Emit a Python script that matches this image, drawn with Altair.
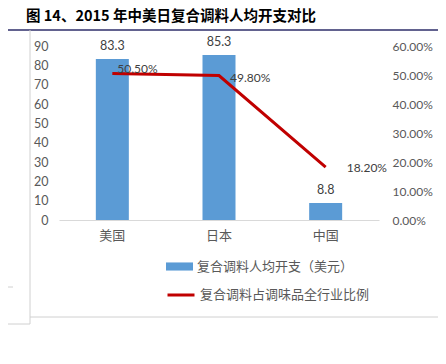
import altair as alt
import pandas as pd

categories = ["美国", "日本", "中国"]
spend = [83.3, 85.3, 8.8]
share = [0.505, 0.498, 0.182]
bar_name = "复合调料人均开支（美元）"
line_name = "复合调料占调味品全行业比例"
left_ticks = [0, 10, 20, 30, 40, 50, 60, 70, 80, 90]
right_ticks = [0, 0.1, 0.2, 0.3, 0.4, 0.5, 0.6]
title_text = "图 14、2015 年中美日复合调料人均开支对比"

df = pd.DataFrame({"cat": categories, "spend": spend, "share": share})
df["s1"] = bar_name
df["s2"] = line_name

NUM = "Lato"
CJK = "Noto Sans CJK SC"

base = alt.Chart(df)
xenc = alt.X("cat:N", sort=categories, title=None,
             scale=alt.Scale(paddingInner=0.69, paddingOuter=0.345),
             axis=alt.Axis(labelAngle=0, labelFont=CJK, labelFontSize=13,
                           labelColor="#595959", domainColor="#D9D9D9",
                           ticks=False, labelPadding=9))

yl = alt.Y("spend:Q", title=None, scale=alt.Scale(domain=[0, 90]),
           axis=alt.Axis(values=left_ticks, grid=False, domain=False, ticks=False,
                         labelOverlap=False, labelFont=NUM, labelFontSize=12.5,
                         labelColor="#595959", labelPadding=11))
yr = alt.Y("share:Q", title=None, scale=alt.Scale(domain=[0, 0.6]),
           axis=alt.Axis(values=right_ticks, format=".2%", orient="right", grid=False,
                         domain=False, ticks=False, labelOverlap=False, labelFont=NUM,
                         labelFontSize=12, labelColor="#595959", labelPadding=13))

bars = base.mark_bar(size=33).encode(
    x=xenc, y=yl,
    color=alt.Color("s1:N", scale=alt.Scale(domain=[bar_name], range=["#5B9BD5"]),
                    legend=alt.Legend(title=None, orient="none", legendX=107, legendY=207,
                                      symbolType="M-1,-0.3L1,-0.3L1,0.3L-1,0.3Z",
                                      symbolSize=729, symbolStrokeWidth=0,
                                      labelFont=CJK, labelFontSize=13, labelLimit=400,
                                      labelColor="#595959", labelOffset=4)))
bar_text = base.mark_text(baseline="bottom", dy=-6, font=NUM, fontSize=12.5,
                          color="#404040").encode(
    x=xenc, y=yl, text=alt.Text("spend:Q", format=".1f"))

line = base.mark_line(strokeWidth=3).encode(
    x=xenc, y=yr,
    stroke=alt.Stroke("s2:N", scale=alt.Scale(domain=[line_name], range=["#C00000"]),
                      legend=alt.Legend(title=None, orient="none", legendX=107, legendY=234,
                                        symbolType="stroke", symbolSize=729,
                                        symbolStrokeWidth=3, labelLimit=400,
                                        labelFont=CJK, labelFontSize=13,
                                        labelColor="#595959", labelOffset=4)))

offsets = {"美国": (5, -5), "日本": (11, 2), "中国": (21, 1)}
line_texts = []
for c in categories:
    dx, dy = offsets[c]
    line_texts.append(
        base.transform_filter(alt.datum.cat == c).mark_text(
            align="left", baseline="middle", dx=dx, dy=dy, font=NUM, fontSize=12,
            color="#404040").encode(
            x=xenc, y=yr, text=alt.Text("share:Q", format=".2%")))

one = alt.Chart(df).transform_filter(alt.datum.cat == categories[0])

def rule(x, x2, y, y2, color, width=1):
    return one.mark_rule(color=color, strokeWidth=width).encode(
        x=alt.value(x), x2=alt.value(x2), y=alt.value(y), y2=alt.value(y2))

deco = [
    rule(-59, 381, -16, -16, "#2E2E6A", 1.5),
    rule(-29, -29, -16, 278, "#D0D0D0"),
    rule(-29, 379, 271, 271, "#D0D0D0"),
    rule(-59, -46, 241, 241, "#D0D0D0"),
    rule(-59, -29, 278, 278, "#D0D0D0"),
    rule(-59, 381, 309, 309, "#2E2E6A", 1.5),
]

title = one.mark_text(align="left", baseline="middle", font=CJK, fontSize=14.5,
                      fontWeight="bold", color="#000000").encode(
    x=alt.value(-33), y=alt.value(-29), text=alt.value(title_text))

left_layer = alt.layer(bars, bar_text)
right_layer = alt.layer(line, *line_texts)

chart = alt.layer(left_layer, right_layer, *deco, title).resolve_scale(
    y="independent", color="independent", stroke="independent"
).properties(
    width=320, height=174,
    autosize=alt.AutoSizeParams(type="none"),
    padding={"left": 51, "top": 38, "right": 59, "bottom": 132},
).configure_view(stroke=None)

chart.save("out.html", embed_options={"renderer": "svg", "actions": False})
